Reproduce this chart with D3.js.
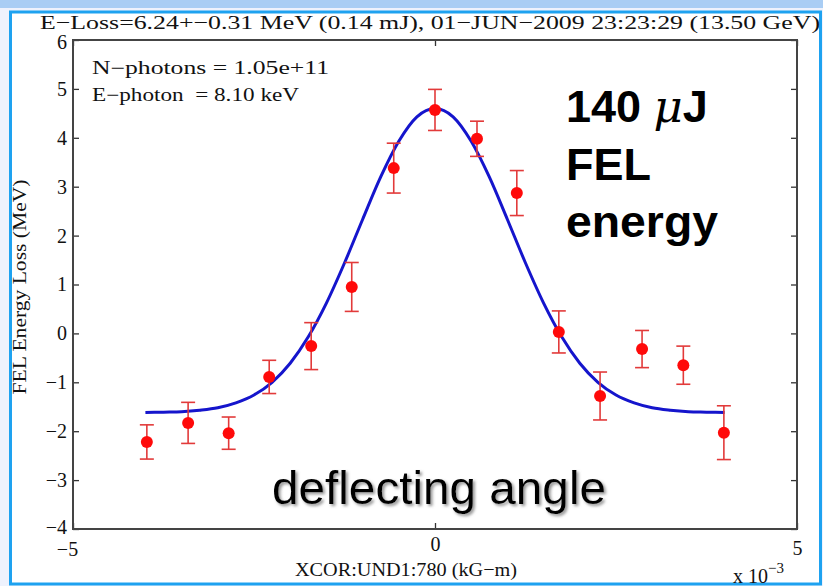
<!DOCTYPE html>
<html><head><meta charset="utf-8">
<script src="https://cdn.jsdelivr.net/npm/d3@7"></script>
<style>
html,body{margin:0;padding:0;background:#eef2fd;}
svg{display:block;}
.serif{font-family:"Liberation Serif","Times New Roman",serif;fill:#111;}
.sans{font-family:"Liberation Sans",Arial,sans-serif;fill:#000;}
</style></head>
<body>
<svg id="chart" width="823" height="586"></svg>
<script>
// ---- data ----
const pointX   = [-3.98,-3.41,-2.85,-2.29,-1.71,-1.15,-0.57,0.00,0.58,1.13,1.71,2.28,2.86,3.43,3.99];
const pointY   = [-2.22,-1.83,-2.04,-0.89,-0.26,0.95,3.38,4.57,3.98,2.87,0.03,-1.28,-0.32,-0.65,-2.03];
const pointErr = [0.35,0.42,0.33,0.34,0.48,0.50,0.51,0.42,0.36,0.46,0.43,0.49,0.38,0.39,0.55];
const fitX = [-4.0,-3.75,-3.5,-3.25,-3.0,-2.75,-2.5,-2.25,-2.0,-1.75,-1.5,-1.25,-1.0,-0.75,-0.5,-0.25,0.0,
              0.25,0.5,0.75,1.0,1.25,1.5,1.75,2.0,2.25,2.5,2.75,3.0,3.25,3.5,3.75,4.0];
const fitY = [-1.62,-1.61,-1.60,-1.57,-1.52,-1.42,-1.26,-1.00,-0.61,-0.07,0.62,1.44,2.33,3.20,3.93,4.43,4.60,
              4.43,3.93,3.20,2.33,1.44,0.62,-0.07,-0.61,-1.00,-1.26,-1.42,-1.52,-1.57,-1.60,-1.61,-1.62];
const xTicks = [-5,0,5];
const yTicks = [-4,-3,-2,-1,0,1,2,3,4,5,6];
const titleText = "E\u2212Loss=6.24+\u22120.31 MeV (0.14 mJ), 01\u2212JUN\u22122009 23:23:29 (13.50 GeV)";
const infoLines = ["N\u2212photons = 1.05e+11", "E\u2212photon  = 8.10 keV"];
const xLabel = "XCOR:UND1:780 (kG\u2212m)";
const yLabel = "FEL Energy Loss (MeV)";

// ---- layout ----
const svg = d3.select("#chart");
const L = 73, R = 797, T = 40, B = 529;
const x = d3.scaleLinear().domain([-5,5]).range([L,R]);
const y = d3.scaleLinear().domain([-4,6]).range([B,T]);

// background / slide frame
svg.append("rect").attr("x",0).attr("y",0).attr("width",823).attr("height",586).attr("fill","#eef2fd");
svg.append("rect").attr("x",0).attr("y",0).attr("width",823).attr("height",8).attr("fill","#a9cdf4");
svg.append("rect").attr("x",10.5).attr("y",12).attr("width",810).attr("height",572)
  .attr("fill","#fff").attr("stroke","#1ea2f0").attr("stroke-width",3);

const defs = svg.append("defs");
const f = defs.append("filter").attr("id","shadow").attr("x","-10%").attr("y","-30%").attr("width","120%").attr("height","160%");
f.append("feDropShadow").attr("dx",2).attr("dy",2).attr("stdDeviation",1.5).attr("flood-color","#888").attr("flood-opacity",0.9);

// axes
const gl = svg.append("g").attr("transform",`translate(${L},0)`)
  .call(d3.axisLeft(y).tickValues(yTicks).tickSize(-6).tickPadding(6).tickFormat(d3.format("d")));
const gr = svg.append("g").attr("transform",`translate(${R},0)`)
  .call(d3.axisRight(y).tickValues(yTicks).tickSize(-6).tickFormat(""));
const gb = svg.append("g").attr("transform",`translate(0,${B})`)
  .call(d3.axisBottom(x).tickValues(xTicks).tickSize(-6).tickPadding(8).tickFormat(d3.format("d")));
const gt = svg.append("g").attr("transform",`translate(0,${T})`)
  .call(d3.axisTop(x).tickValues(xTicks).tickSize(-6).tickFormat(""));
[gl,gr,gb,gt].forEach(g=>{
  g.select(".domain").remove();
  g.selectAll(".tick line").attr("stroke","#333").attr("stroke-width",1.3);
  g.selectAll("text").attr("class","serif").attr("font-size",20).attr("fill","#111");
});
gb.selectAll(".tick text").filter(d=>d===-5).attr("dx",-6).attr("dy","0.95em");
gb.selectAll(".tick text").filter(d=>d===5).attr("dy","0.9em");
gl.selectAll(".tick text").filter(d=>d===-4).attr("dy","0.2em");
gl.selectAll(".tick text").filter(d=>d===6).attr("dy","0.42em");

// frame
svg.append("rect").attr("x",L).attr("y",T).attr("width",R-L).attr("height",B-T)
  .attr("fill","none").attr("stroke","#444").attr("stroke-width",2);

// fit curve
const line = d3.line().x((d,i)=>x(fitX[i])).y((d,i)=>y(fitY[i])).curve(d3.curveMonotoneX);
svg.append("path").datum(fitX).attr("d",line).attr("fill","none")
  .attr("stroke","#1515cc").attr("stroke-width",3);

// error bars + points
const pts = pointX.map((v,i)=>({x:v,y:pointY[i],e:pointErr[i]}));
const eb = svg.append("g").attr("stroke","#e23a3a").attr("stroke-width",1.6);
pts.forEach(p=>{
  eb.append("line").attr("x1",x(p.x)).attr("x2",x(p.x)).attr("y1",y(p.y+p.e)).attr("y2",y(p.y-p.e));
  eb.append("line").attr("x1",x(p.x)-7).attr("x2",x(p.x)+7).attr("y1",y(p.y+p.e)).attr("y2",y(p.y+p.e));
  eb.append("line").attr("x1",x(p.x)-7).attr("x2",x(p.x)+7).attr("y1",y(p.y-p.e)).attr("y2",y(p.y-p.e));
});
svg.append("g").selectAll("circle").data(pts).join("circle")
  .attr("cx",d=>x(d.x)).attr("cy",d=>y(d.y)).attr("r",6).attr("fill","#ff0a0a");

// texts
svg.append("text").attr("class","serif").attr("x",40).attr("y",29).attr("font-size",19)
  .attr("textLength",780).attr("lengthAdjust","spacingAndGlyphs").text(titleText);
svg.append("text").attr("class","serif").attr("x",92).attr("y",74).attr("font-size",18)
  .attr("textLength",237).attr("lengthAdjust","spacingAndGlyphs").text(infoLines[0]);
svg.append("text").attr("class","serif").attr("x",92).attr("y",101).attr("font-size",18)
  .attr("textLength",207).attr("lengthAdjust","spacingAndGlyphs").attr("xml:space","preserve").text(infoLines[1]);
svg.append("text").attr("class","serif").attr("font-size",18).attr("text-anchor","middle")
  .attr("transform","translate(26,287) rotate(-90)")
  .attr("textLength",215).attr("lengthAdjust","spacingAndGlyphs").text(yLabel);
svg.append("text").attr("class","serif").attr("font-size",19).attr("text-anchor","middle")
  .attr("x",406).attr("y",576).attr("textLength",222).attr("lengthAdjust","spacingAndGlyphs").text(xLabel);
const xm = svg.append("text").attr("class","serif").attr("font-size",20).attr("x",733).attr("y",583);
xm.append("tspan").text("x 10");
xm.append("tspan").attr("font-size",15).attr("dy",-10).text("\u22123");

// annotations
const a1 = svg.append("text").attr("class","sans").attr("font-size",45).attr("font-weight","bold").attr("x",566).attr("y",122);
a1.append("tspan").text("140 ");
a1.append("tspan").attr("font-style","italic").attr("font-family","'DejaVu Serif',serif").attr("font-weight","normal").text("\u03bc");
a1.append("tspan").text("J");
svg.append("text").attr("class","sans").attr("font-size",45).attr("font-weight","bold").attr("x",566).attr("y",180).text("FEL");
svg.append("text").attr("class","sans").attr("font-size",45).attr("font-weight","bold").attr("x",566).attr("y",237)
  .attr("textLength",152).attr("lengthAdjust","spacingAndGlyphs").text("energy");
svg.append("text").attr("class","sans").attr("font-size",46).attr("x",272).attr("y",504)
  .attr("textLength",334).attr("lengthAdjust","spacingAndGlyphs")
  .attr("filter","url(#shadow)").attr("fill","#111").text("deflecting angle");
</script>
</body></html>
